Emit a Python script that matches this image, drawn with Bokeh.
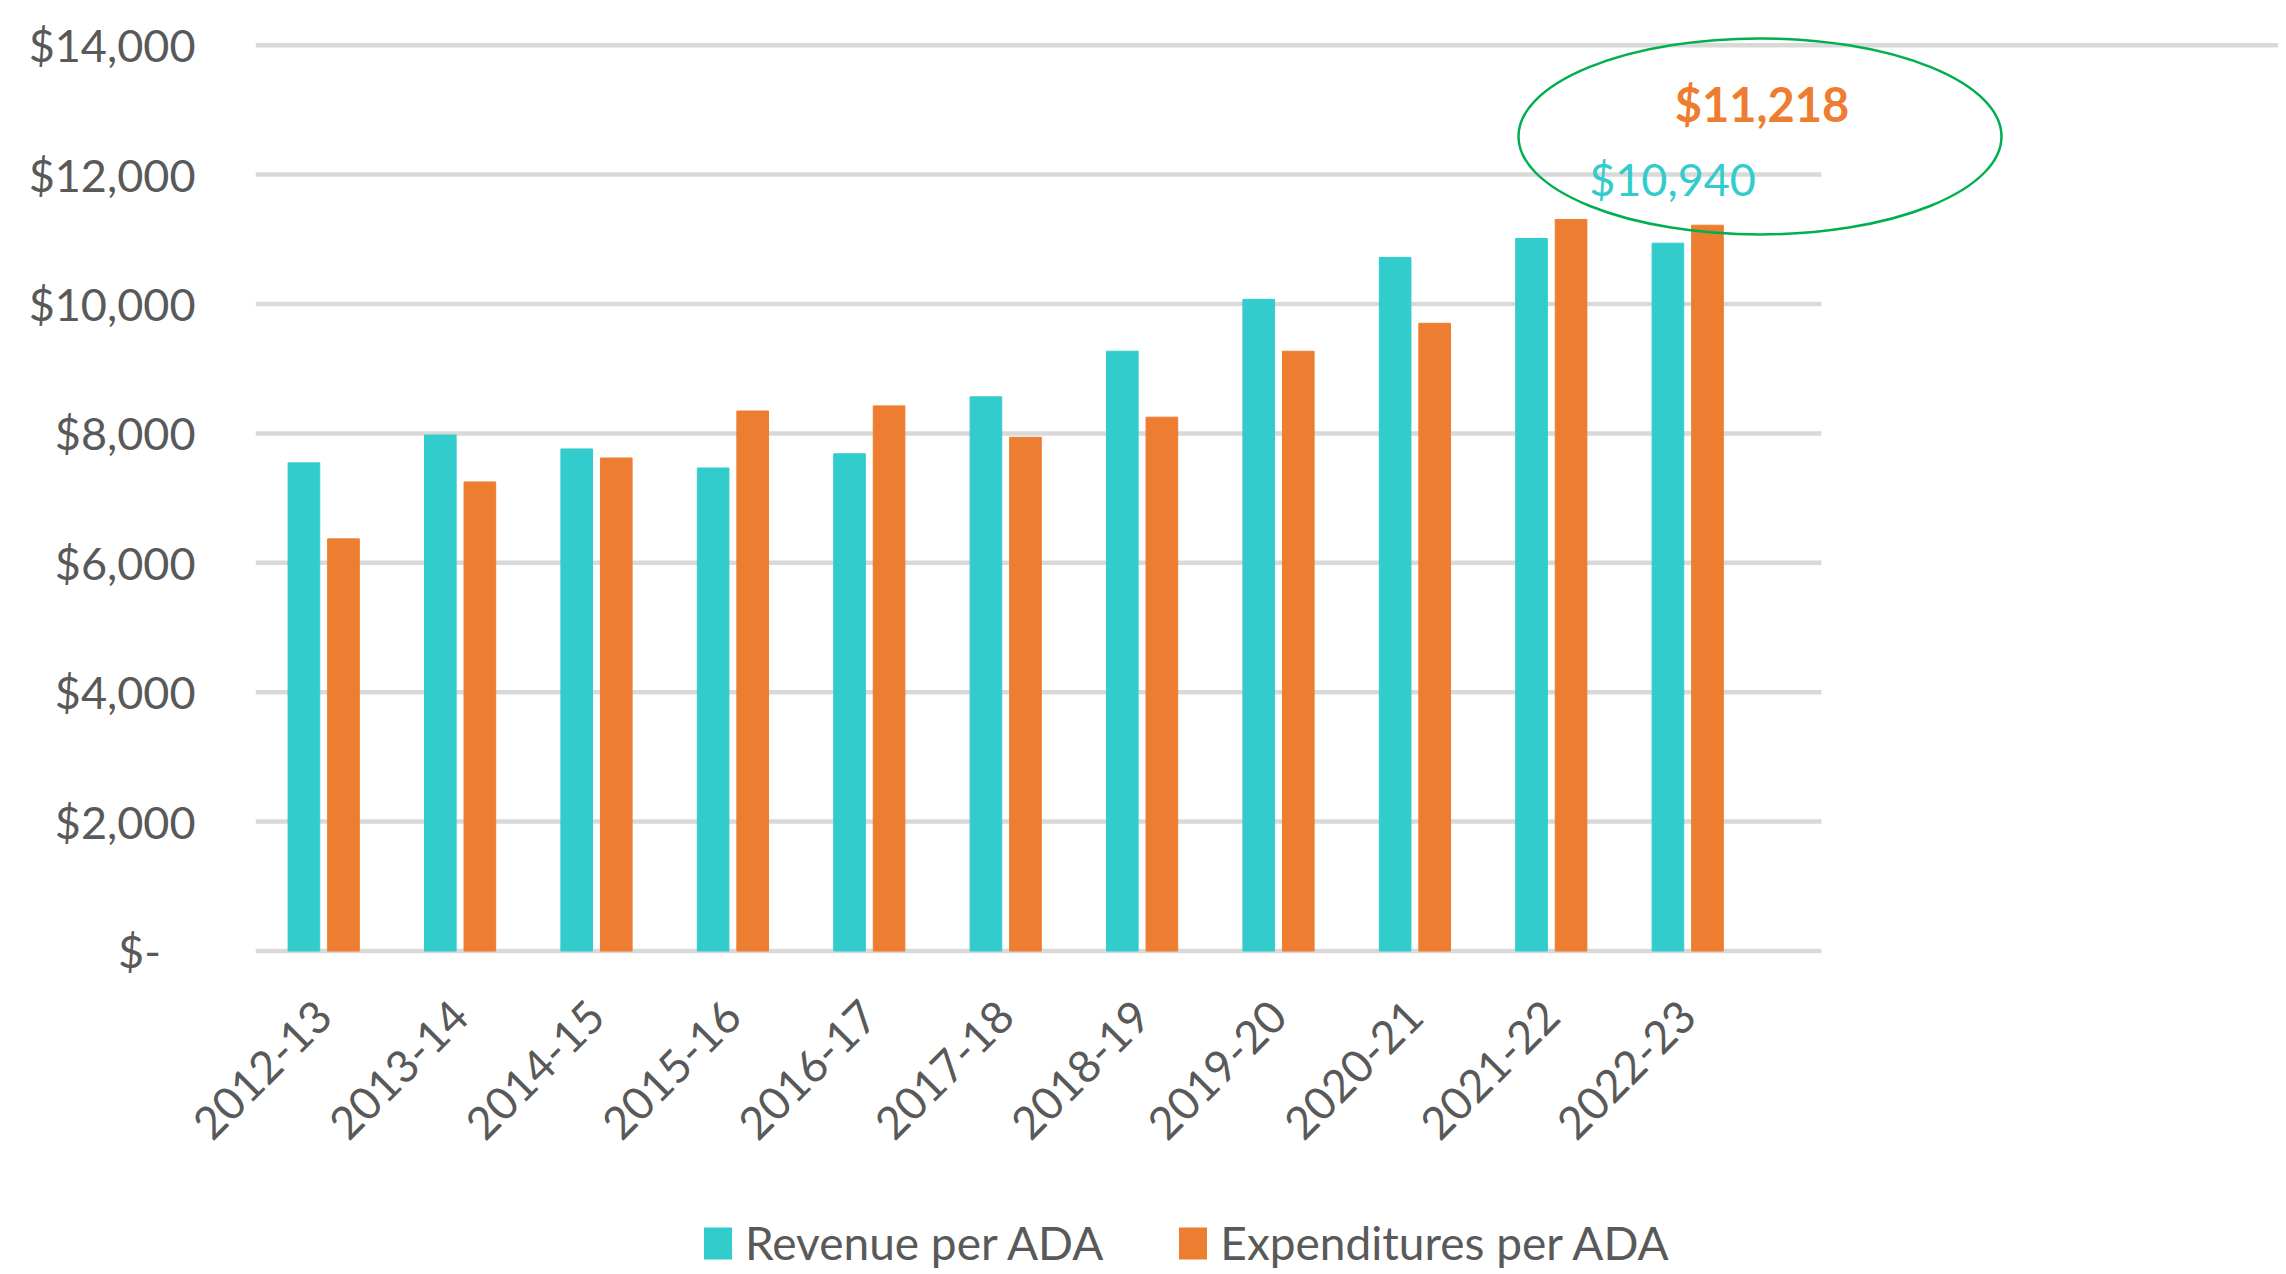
import math
from bokeh.plotting import figure
from bokeh.layouts import column
from bokeh.models import Range1d, FixedTicker, Legend, LegendItem
from bokeh.core.properties import value
from bokeh.embed import file_html
from bokeh.resources import INLINE

# ---- data ----
years = ["2012-13", "2013-14", "2014-15", "2015-16", "2016-17", "2017-18",
         "2018-19", "2019-20", "2020-21", "2021-22", "2022-23"]
revenue = [7545, 7975, 7760, 7465, 7685, 8565, 9270, 10072, 10720, 11013, 10940]
expenditures = [6370, 7250, 7620, 8346, 8425, 7940, 8251, 9270, 9702, 11306, 11218]
y_ticks = [0, 2000, 4000, 6000, 8000, 10000, 12000, 14000]
y_tick_labels = ["$-\u00a0\u00a0\u00a0", "$2,000", "$4,000", "$6,000", "$8,000",
                 "$10,000", "$12,000", "$14,000"]
legend_labels = ["Revenue per ADA", "Expenditures per ADA"]
callout_labels = ["$10,940", "$11,218"]

# ---- style ----
FONT = "Lato"
FS = "45px"
TEAL = "#33CCCC"
ORANGE = "#ED7D31"
GREEN = "#00B050"
GRID = "#D9D9D9"
TEXT = "#595959"

W = 2278
H1 = 1200          # main chart
H2 = 70            # legend strip
LEFT = 255
FRAME_H = 957
px_per_cat = 136.4
px_per_dollar = 129.4 / 2000
x_start = -0.5
x_end = x_start + (W - LEFT) / px_per_cat
y_start = -6.5 / px_per_dollar
y_end = y_start + FRAME_H / px_per_dollar
grid_end = 10.98

p = figure(width=W, height=H1, output_backend="svg", toolbar_location=None,
           x_range=Range1d(x_start, x_end), y_range=Range1d(y_start, y_end),
           min_border_left=LEFT, min_border_right=0, min_border_top=0,
           min_border_bottom=H1 - FRAME_H)
p.outline_line_color = None
p.xgrid.visible = False
p.ygrid.visible = False

# gridlines
gx1 = [grid_end if t < max(y_ticks) else x_end for t in y_ticks]
p.segment(x0=[x_start] * len(y_ticks), y0=y_ticks, x1=gx1, y1=y_ticks,
          line_color=GRID, line_width=4.5)

idx = list(range(len(years)))
off = 0.145
bw = 0.232
p.vbar(x=[i - off for i in idx], top=revenue, bottom=0, width=bw, color=TEAL)
p.vbar(x=[i + off for i in idx], top=expenditures, bottom=0, width=bw, color=ORANGE)

# callout
p.ellipse(x=[10.53], y=[12590], width=[483], height=[196],
          width_units="screen", height_units="screen",
          fill_color=None, line_color=GREEN, line_width=2.5)
p.text(x=[9.889], y=[11929], text=[callout_labels[0]], text_align="center",
       text_baseline="alphabetic", text_font=value(FONT), text_font_size="45px",
       text_color=TEAL)
p.text(x=[10.545], y=[13096], text=[callout_labels[1]], text_align="center",
       text_baseline="alphabetic", text_font=value(FONT), text_font_size="47px",
       text_color=ORANGE, text_font_style="bold")

# axes
p.xaxis.ticker = FixedTicker(ticks=idx)
p.xaxis.major_label_overrides = {i: years[i] for i in idx}
p.xaxis.major_label_orientation = math.pi / 4
p.yaxis.ticker = FixedTicker(ticks=y_ticks)
p.yaxis.major_label_overrides = {t: l for t, l in zip(y_ticks, y_tick_labels)}
for ax in (p.xaxis[0], p.yaxis[0]):
    ax.axis_line_color = None
    ax.major_tick_line_color = None
    ax.minor_tick_line_color = None
    ax.major_tick_out = 0
    ax.major_tick_in = 0
    ax.major_label_text_font = FONT
    ax.major_label_text_font_size = FS
    ax.major_label_text_color = TEXT
p.xaxis.major_label_standoff = 51
p.yaxis.major_label_standoff = 60

# legend strip (frame is aligned with the chart frame by the column layout)
p2 = figure(width=W, height=H2, output_backend="svg", toolbar_location=None,
            x_axis_type=None, y_axis_type=None,
            x_range=Range1d(0, 1), y_range=Range1d(0, 1),
            min_border_left=0, min_border_right=0, min_border_top=0,
            min_border_bottom=0)
p2.outline_line_color = None
p2.xgrid.visible = False
p2.ygrid.visible = False
s1 = p2.vbar(x=[0.0], top=[0.0], bottom=0, width=0, fill_color=TEAL, line_color=None)
s2 = p2.vbar(x=[0.0], top=[0.0], bottom=0, width=0, fill_color=ORANGE, line_color=None)
legend = Legend(items=[LegendItem(label=legend_labels[0], renderers=[s1]),
                       LegendItem(label=legend_labels[1], renderers=[s2])],
                orientation="horizontal", location=(445, 0),
                glyph_width=35, glyph_height=40, label_standoff=10, spacing=72,
                padding=0, margin=0, border_line_color=None,
                background_fill_alpha=0, label_text_font=FONT,
                label_text_font_size="46px", label_text_color=TEXT)
p2.add_layout(legend)

layout = column(p, p2, spacing=0)
open("out.html", "w").write(file_html(layout, INLINE))
